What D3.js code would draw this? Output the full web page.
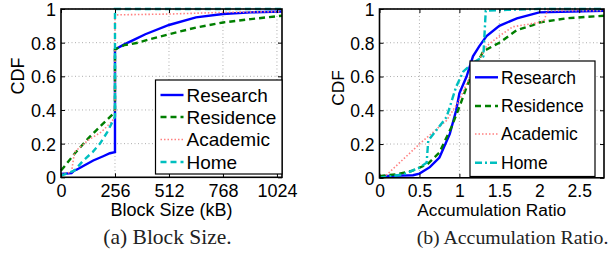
<!DOCTYPE html>
<html>
<head>
<meta charset="utf-8">
<script src="https://cdn.jsdelivr.net/npm/d3@7"></script>
<style>
  body { margin: 0; background: #fff; }
  svg text { font-family: "Liberation Sans", Arial, sans-serif; fill: #000; }
  svg text.caption { font-family: "Liberation Serif", "DejaVu Serif", serif; fill: #222; }
</style>
</head>
<body>
<svg id="chart" width="609" height="256"></svg>
<script>
// series names shared by both panels
const seriesNames = ["Research", "Residence", "Academic", "Home"];
const seriesColors = ["#0000ff", "#007f00", "#ff8080", "#00bfbf"];

// (a) block size in kB
const blockTicks = [0, 256, 512, 768, 1024];
const blockResearch = [[0, 0.02], [50, 0.025], [62, 0.04], [74, 0.045], [110, 0.07], [153, 0.1], [200, 0.125], [232, 0.143], [256, 0.15], [256, 0.76], [300, 0.79], [350, 0.82], [400, 0.85], [512, 0.905], [640, 0.95], [768, 0.97], [900, 0.98], [1048, 0.985]];
const blockResidence = [[0, 0.04], [20, 0.07], [64, 0.14], [128, 0.23], [192, 0.31], [250, 0.38], [256, 0.4], [256, 0.76], [300, 0.785], [367, 0.8], [420, 0.82], [512, 0.85], [640, 0.89], [768, 0.92], [900, 0.94], [1048, 0.96]];
const blockAcademic = [[0, 0.02], [50, 0.03], [58, 0.1], [64, 0.15], [128, 0.22], [192, 0.27], [240, 0.33], [256, 0.36], [256, 0.965], [512, 0.97], [640, 0.975], [768, 0.98], [1048, 0.985]];
const blockHome = [[0, 0.01], [64, 0.04], [106, 0.1], [150, 0.15], [185, 0.2], [220, 0.27], [248, 0.34], [256, 0.36], [256, 1.0], [1048, 1.0]];

// (b) accumulation ratio
const ratioTicks = [0, 0.5, 1, 1.5, 2, 2.5];
const ratioResearch = [[0, 0.01], [0.42, 0.015], [0.5, 0.025], [0.63, 0.063], [0.75, 0.12], [0.88, 0.26], [0.96, 0.4], [1.0, 0.5], [1.09, 0.6], [1.17, 0.72], [1.25, 0.78], [1.34, 0.84], [1.5, 0.9], [1.72, 0.945], [2.0, 0.98], [2.81, 0.99]];
const ratioResidence = [[0, 0.01], [0.2, 0.02], [0.4, 0.04], [0.6, 0.08], [0.75, 0.15], [0.9, 0.3], [1.0, 0.42], [1.1, 0.55], [1.2, 0.66], [1.3, 0.75], [1.5, 0.8], [1.72, 0.875], [1.92, 0.905], [2.0, 0.92], [2.34, 0.945], [2.81, 0.96]];
const ratioAcademic = [[0.05, 0.0], [0.5, 0.2], [0.84, 0.34], [1.0, 0.46], [1.15, 0.62], [1.34, 0.78], [1.5, 0.84], [1.67, 0.895], [2.0, 0.92], [2.06, 0.93], [2.1, 0.99], [2.81, 0.99]];
const ratioHome = [[0, 0.0], [0.3, 0.02], [0.5, 0.06], [0.59, 0.09], [0.61, 0.22], [0.84, 0.36], [0.96, 0.54], [1.05, 0.63], [1.17, 0.68], [1.3, 0.72], [1.33, 0.99], [1.6, 0.995], [2.0, 1.0], [2.81, 1.0]];

const cdfTicks = [0, 0.2, 0.4, 0.6, 0.8, 1];
const cdfLabels = ["0", "0.2", "0.4", "0.6", "0.8", "1"];

const svg = d3.select("#chart");

function drawPanel(p) {
  const x = d3.scaleLinear().domain(p.xDomain).range([p.left, p.right]);
  const y = d3.scaleLinear().domain([0, 1]).range([p.bottom, p.top]);
  const g = svg.append("g");

  // grid
  g.selectAll(".gx").data(p.xTicks.slice(1)).enter().append("line")
    .attr("x1", d => x(d)).attr("x2", d => x(d))
    .attr("y1", p.top).attr("y2", p.bottom)
    .attr("stroke", "#999").attr("stroke-width", 0.8).attr("stroke-dasharray", "1,2.5");
  g.selectAll(".gy").data(cdfTicks.slice(1)).enter().append("line")
    .attr("y1", d => y(d)).attr("y2", d => y(d))
    .attr("x1", p.left).attr("x2", p.right)
    .attr("stroke", "#999").attr("stroke-width", 0.8).attr("stroke-dasharray", "1,2.5");

  // curves
  const line = d3.line().x(d => x(d[0])).y(d => y(d[1]));
  p.series.forEach((s, i) => {
    g.append("path").datum(s)
      .attr("fill", "none")
      .attr("stroke", seriesColors[i])
      .attr("stroke-width", i === 2 ? 1.6 : 2.4)
      .attr("stroke-dasharray", p.dashes[i])
      .attr("d", line);
  });

  // axes with inward ticks, matlab style
  const bottomAxis = d3.axisBottom(x).tickValues(p.xTicks).tickSize(-4).tickPadding(8).tickFormat(d3.format("~g"));
  const leftAxis = d3.axisLeft(y).tickValues(cdfTicks).tickSize(-4).tickPadding(5).tickFormat((d, i) => cdfLabels[i]);
  const ax = g.append("g").attr("transform", `translate(0,${p.bottom})`).call(bottomAxis);
  const ay = g.append("g").attr("transform", `translate(${p.left},0)`).call(leftAxis);
  g.append("g").attr("transform", `translate(0,${p.top})`).call(d3.axisTop(x).tickValues(p.xTicks).tickSize(-4).tickFormat(""));
  g.append("g").attr("transform", `translate(${p.right},0)`).call(d3.axisRight(y).tickValues(cdfTicks).tickSize(-4).tickFormat(""));
  g.selectAll(".domain").remove();
  g.selectAll(".tick line").attr("stroke", "#000").attr("stroke-width", 1);
  [ax, ay].forEach(a => a.selectAll("text").attr("font-size", p.tickFont).attr("fill", "#000"));
  ax.selectAll("text").attr("dy", "0.65em");
  ay.selectAll("text").attr("dy", "0.36em");

  g.append("rect")
    .attr("x", p.left).attr("y", p.top)
    .attr("width", p.right - p.left).attr("height", p.bottom - p.top)
    .attr("fill", "none").attr("stroke", "#000").attr("stroke-width", 1.6);

  // labels
  g.append("text").attr("x", (p.left + p.right) / 2).attr("y", p.xLabelY)
    .attr("text-anchor", "middle").attr("font-size", p.labelFont).text(p.xLabel);
  g.append("text")
    .attr("transform", `translate(${p.yLabelX},${p.yLabelY}) rotate(-90)`)
    .attr("text-anchor", "middle").attr("font-size", p.labelFont).text("CDF");
  g.append("text").attr("class", "caption").attr("x", p.captionX).attr("y", 244)
    .attr("text-anchor", "middle").attr("font-size", p.captionFont).text(p.caption);

  // legend
  const lg = p.legend;
  g.append("rect").attr("x", lg.x).attr("y", lg.y).attr("width", lg.w).attr("height", lg.h)
    .attr("fill", "#fff").attr("stroke", "#000").attr("stroke-width", 1.2);
  seriesNames.forEach((name, i) => {
    const yy = lg.rows[i];
    g.append("line")
      .attr("x1", lg.x + 5).attr("x2", lg.x + 28).attr("y1", yy).attr("y2", yy)
      .attr("stroke", seriesColors[i]).attr("stroke-width", i === 2 ? 1.6 : 2.4)
      .attr("stroke-dasharray", p.dashes[i]);
    g.append("text").attr("x", lg.x + 31).attr("y", yy).attr("dy", "0.36em")
      .attr("font-size", lg.font).text(name);
  });
}

drawPanel({
  xDomain: [0, 1048], xTicks: blockTicks,
  left: 61, right: 282, top: 9, bottom: 177.3,
  series: [blockResearch, blockResidence, blockAcademic, blockHome],
  dashes: [null, "6,4", "1.5,2", "6,4"],
  tickFont: 18, labelFont: 18,
  xLabel: "Block Size (kB)", xLabelY: 216,
  yLabelX: 24, yLabelY: 76,
  caption: "(a) Block Size.", captionX: 167.5, captionFont: 21.5,
  legend: { x: 155.5, y: 80, w: 126.5, h: 94, rows: [95, 117, 139.5, 162], font: 19 }
});

drawPanel({
  xDomain: [0, 2.81], xTicks: ratioTicks,
  left: 379.5, right: 604, top: 9, bottom: 177.8,
  series: [ratioResearch, ratioResidence, ratioAcademic, ratioHome],
  dashes: [null, "6,4", "1.5,2", "7,3,2,3"],
  tickFont: 17.5, labelFont: 17.3,
  xLabel: "Accumulation Ratio", xLabelY: 216,
  yLabelX: 344, yLabelY: 88,
  caption: "(b) Accumulation Ratio.", captionX: 512.5, captionFont: 19.8,
  legend: { x: 470, y: 61, w: 125, h: 115.5, rows: [77.3, 106, 134, 162.7], font: 17.5 }
});
</script>
</body>
</html>
